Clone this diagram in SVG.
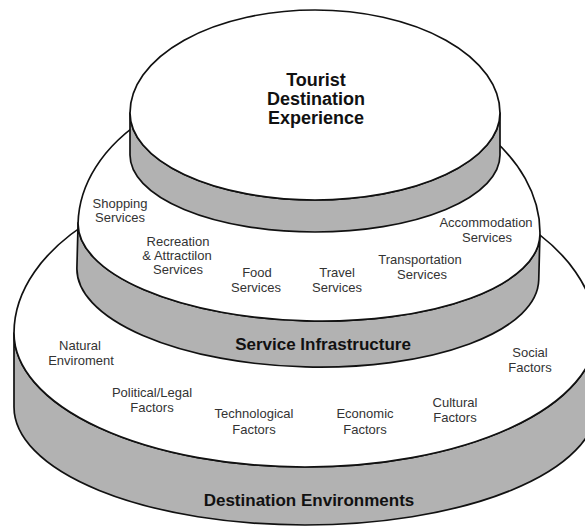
<svg xmlns="http://www.w3.org/2000/svg" width="585" height="529" viewBox="0 0 585 529">
<style>
.face{fill:#ffffff;stroke:#111;stroke-width:1.7;stroke-linejoin:round}
.band{fill:#b2b2b2;stroke:#111;stroke-width:1.7;stroke-linejoin:round}
.lbl{font-family:"Liberation Sans",Arial,sans-serif;font-size:13px;fill:#333;text-anchor:middle}
.ttl{font-family:"Liberation Sans",Arial,sans-serif;font-size:17px;font-weight:bold;fill:#111;text-anchor:middle}
.big{font-size:18px}
</style>
<rect width="585" height="529" fill="#ffffff"/>
<g id="destination-environments">
  <path class="band" d="M14,333 A291,134 0 0 0 596,333 L596,407 A291,118 0 0 1 14,407 Z"/>
  <path class="face" d="M14,333 A291,166 0 0 1 596,333 A291,134 0 0 1 14,333 Z"/>
  <text class="ttl" x="309" y="506">Destination Environments</text>
  <text class="lbl" x="80" y="350">Natural</text>
  <text class="lbl" x="81" y="365">Enviroment</text>
  <text class="lbl" x="152" y="397">Political/Legal</text>
  <text class="lbl" x="152" y="412">Factors</text>
  <text class="lbl" x="254" y="418">Technological</text>
  <text class="lbl" x="254" y="434">Factors</text>
  <text class="lbl" x="365" y="418">Economic</text>
  <text class="lbl" x="365" y="434">Factors</text>
  <text class="lbl" x="455" y="407">Cultural</text>
  <text class="lbl" x="455" y="422">Factors</text>
  <text class="lbl" x="530" y="357">Social</text>
  <text class="lbl" x="530" y="372">Factors</text>
</g>
<g id="service-infrastructure">
  <g transform="rotate(1.5 309 229)">
    <path class="band" d="M78,229 A231,92 0 0 0 540,229 L540,274 A231,93 0 0 1 78,274 Z"/>
    <path class="face" d="M78,229 A231,153 0 0 1 540,229 A231,92 0 0 1 78,229 Z"/>
  </g>
  <text class="ttl" x="323" y="350">Service Infrastructure</text>
  <text class="lbl" x="120" y="208">Shopping</text>
  <text class="lbl" x="120" y="222">Services</text>
  <text class="lbl" x="178" y="246">Recreation</text>
  <text class="lbl" x="177" y="260">&amp; Attractilon</text>
  <text class="lbl" x="178" y="274">Services</text>
  <text class="lbl" x="257" y="277">Food</text>
  <text class="lbl" x="256" y="292">Services</text>
  <text class="lbl" x="337" y="277">Travel</text>
  <text class="lbl" x="337" y="292">Services</text>
  <text class="lbl" x="420" y="264">Transportation</text>
  <text class="lbl" x="422" y="279">Services</text>
  <text class="lbl" x="486" y="227">Accommodation</text>
  <text class="lbl" x="487" y="242">Services</text>
</g>
<g id="tourist-destination-experience">
  <path class="band" d="M130,113 A185,87 0 0 0 500,113 L500,155 A185,77 0 0 1 130,155 Z"/>
  <path class="face" d="M130,113 A185,103 0 0 1 500,113 A185,87 0 0 1 130,113 Z"/>
  <text class="ttl big" x="316" y="86">Tourist</text>
  <text class="ttl big" x="316" y="105">Destination</text>
  <text class="ttl big" x="316" y="124">Experience</text>
</g>
</svg>
